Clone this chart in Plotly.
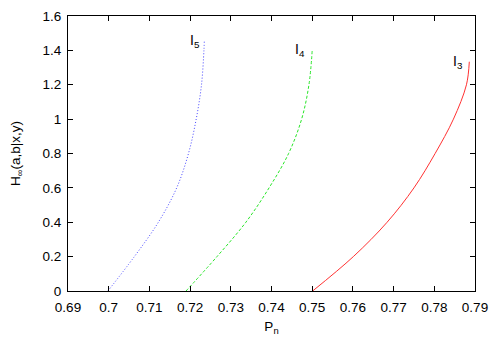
import plotly.graph_objects as go

# I5 curve (blue, dotted)
i5_x = [0.6998, 0.7063, 0.7122, 0.7167, 0.7196, 0.7215, 0.7228, 0.7234, 0.7235]
i5_y = [0.0, 0.2, 0.4, 0.6, 0.8, 1.0, 1.2, 1.4, 1.46]

# I4 curve (green, dashed)
i4_x = [0.7190, 0.7266, 0.7337, 0.7394, 0.7442, 0.7474, 0.7492, 0.7500]
i4_y = [0.0, 0.2, 0.4, 0.6, 0.8, 1.0, 1.2, 1.40]

# I3 curve (red, solid)
i3_x = [0.7501, 0.7601, 0.7684, 0.7750, 0.7802, 0.7847, 0.7879, 0.7886]
i3_y = [0.0, 0.2, 0.4, 0.6, 0.8, 1.0, 1.2, 1.334]

x_ticks = [0.69, 0.70, 0.71, 0.72, 0.73, 0.74, 0.75, 0.76, 0.77, 0.78, 0.79]
x_tick_labels = ["0.69", "0.7", "0.71", "0.72", "0.73", "0.74", "0.75", "0.76", "0.77", "0.78", "0.79"]
y_ticks = [0, 0.2, 0.4, 0.6, 0.8, 1.0, 1.2, 1.4, 1.6]
y_tick_labels = ["0", "0.2", "0.4", "0.6", "0.8", "1", "1.2", "1.4", "1.6"]

labels = ["I<sub>5</sub>", "I<sub>4</sub>", "I<sub>3</sub>"]
label_x = [0.7227, 0.7485, 0.7874]
label_y = [1.454, 1.405, 1.332]

FONT = "Liberation Sans, Arial, sans-serif"

fig = go.Figure()
fig.add_trace(go.Scatter(x=i5_x, y=i5_y, mode="lines", line_shape="spline",
                         line=dict(color="rgb(70,70,255)", width=1, dash="1px,2px")))
fig.add_trace(go.Scatter(x=i4_x, y=i4_y, mode="lines", line_shape="spline",
                         line=dict(color="rgb(40,230,40)", width=1, dash="3px,2px")))
fig.add_trace(go.Scatter(x=i3_x, y=i3_y, mode="lines", line_shape="spline",
                         line=dict(color="rgb(255,50,50)", width=1)))

for t, lx, ly in zip(labels, label_x, label_y):
    fig.add_annotation(x=lx, y=ly, text=t, showarrow=False, xanchor="right", yanchor="middle",
                       xshift=1, font=dict(family=FONT, size=14, color="black"))

axis_common = dict(showline=True, linecolor="black", linewidth=1, mirror="ticks",
                   ticks="inside", ticklen=5, tickcolor="black", showgrid=False, zeroline=False,
                   automargin=False,
                   tickfont=dict(family=FONT, size=13.5, color="black"))

fig.update_layout(
    width=500, height=350,
    margin=dict(l=60, r=33, t=8, b=67),
    paper_bgcolor="white", plot_bgcolor="white",
    showlegend=False,
    xaxis=dict(range=[0.69, 0.79], tickvals=x_ticks, ticktext=x_tick_labels, ticklabelstandoff=4,
               title=dict(text="P<sub>n</sub>", font=dict(family=FONT, size=13.5, color="black"), standoff=7),
               **axis_common),
    yaxis=dict(range=[0, 1.6], tickvals=y_ticks, ticktext=y_tick_labels, ticklabelstandoff=3,
               title=dict(text="H<sub>∞</sub>(a,b|x,y)", font=dict(family=FONT, size=13.5, color="black"), standoff=21),
               **axis_common),
)

fig.write_html("out.html")
